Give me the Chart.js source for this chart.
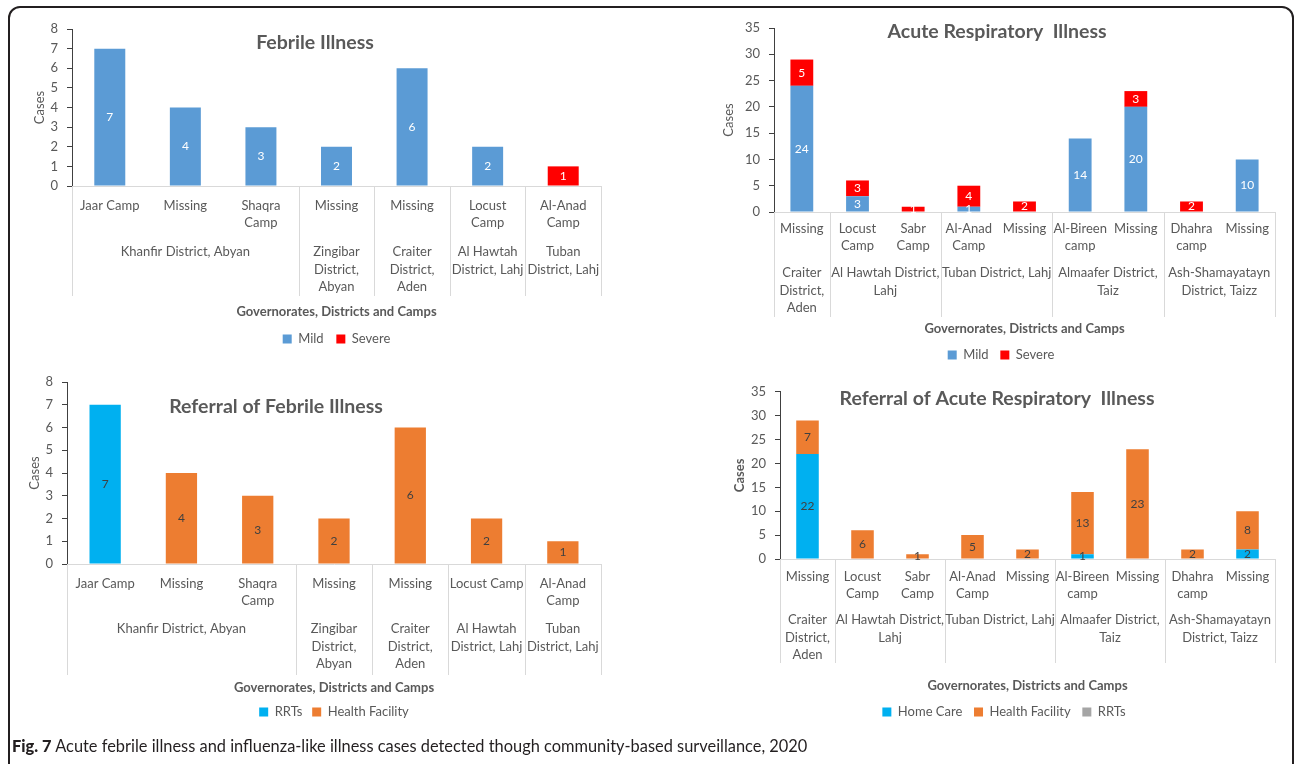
<!DOCTYPE html>
<html>
<head>
<meta charset="utf-8">
<script src="https://cdn.jsdelivr.net/npm/chart.js@4.4.1/dist/chart.umd.min.js"></script>
<style>
  html, body { margin: 0; padding: 0; background: #fff; }
  body { width: 1295px; height: 764px; position: relative; overflow: hidden; font-family: Lato, Carlito, "Liberation Sans", sans-serif; }
  canvas { position: absolute; }
  .frame { position: absolute; left: 8px; top: 6px; width: 1286px; height: 772px; border: 2px solid #231f20; border-radius: 12px; box-sizing: border-box; pointer-events: none; }
  .caption { position: absolute; left: 12px; top: 736px; font-size: 16.4px; color: #231f20; white-space: nowrap; }
  .caption b { font-weight: 900; }
</style>
</head>
<body>
<canvas id="febrile"></canvas>
<canvas id="ari"></canvas>
<canvas id="refFebrile"></canvas>
<canvas id="refAri"></canvas>
<div class="frame"></div>
<div class="caption"><b>Fig. 7</b> Acute febrile illness and influenza-like illness cases detected though community-based surveillance, 2020</div>

<script>
const FONT = 'Lato, Carlito, "Liberation Sans", sans-serif';
const TEXT = '#595959';
const AXIS_DARK = '#404040';
const GRID_LIGHT = '#d9d9d9';

const BLUE = '#5b9bd5';
const RED = '#ff0000';
const CYAN = '#00b0f0';
const ORANGE = '#ed7d31';
const GREY = '#a5a5a5';

// Febrile illness (camps grouped by district)
const febrileCamps = [['Jaar Camp'], ['Missing'], ['Shaqra', 'Camp'], ['Missing'], ['Missing'], ['Locust', 'Camp'], ['Al-Anad', 'Camp']];
const febrileGroups = [['Khanfir District, Abyan'], ['Zingibar', 'District,', 'Abyan'], ['Craiter', 'District,', 'Aden'], ['Al Hawtah', 'District, Lahj'], ['Tuban', 'District, Lahj']];
const febrileGroupSizes = [3, 1, 1, 1, 1];
const febrileMild = [7, 4, 3, 2, 6, 2, 0];
const febrileSevere = [0, 0, 0, 0, 0, 0, 1];
const febrileTicks = [0, 1, 2, 3, 4, 5, 6, 7, 8];

// Acute respiratory illness
const ariCamps = [['Missing'], ['Locust', 'Camp'], ['Sabr', 'Camp'], ['Al-Anad', 'Camp'], ['Missing'], ['Al-Bireen', 'camp'], ['Missing'], ['Dhahra', 'camp'], ['Missing']];
const ariGroups = [['Craiter', 'District,', 'Aden'], ['Al Hawtah District,', 'Lahj'], ['Tuban District, Lahj'], ['Almaafer District,', 'Taiz'], ['Ash-Shamayatayn', 'District, Taizz']];
const ariGroupSizes = [1, 2, 2, 2, 2];
const ariMild = [24, 3, 0, 1, 0, 14, 20, 0, 10];
const ariSevere = [5, 3, 1, 4, 2, 0, 3, 2, 0];
const ariTicks = [0, 5, 10, 15, 20, 25, 30, 35];

// Referral of febrile illness
const refFebrileCamps = [['Jaar Camp'], ['Missing'], ['Shaqra', 'Camp'], ['Missing'], ['Missing'], ['Locust Camp'], ['Al-Anad', 'Camp']];
const refFebrileRRTs = [7, 0, 0, 0, 0, 0, 0];
const refFebrileFacility = [0, 4, 3, 2, 6, 2, 1];

// Referral of acute respiratory illness
const refAriHome = [22, 0, 0, 0, 0, 1, 0, 0, 2];
const refAriFacility = [7, 6, 1, 5, 2, 13, 23, 2, 8];
const refAriRRTs = [0, 0, 0, 0, 0, 0, 0, 0, 0];

Chart.defaults.font.family = FONT;
Chart.defaults.color = TEXT;

// value labels, district rows under the camp labels, and the overlay title
const excelExtras = {
  id: 'excelExtras',
  afterDatasetsDraw(chart, args, opts) {
    const ctx = chart.ctx;
    ctx.save();
    ctx.font = '12px ' + FONT;
    ctx.fillStyle = opts.labelColor;
    ctx.textAlign = 'center';
    ctx.textBaseline = 'middle';
    chart.data.datasets.forEach((ds, i) => {
      chart.getDatasetMeta(i).data.forEach((bar, j) => {
        const v = ds.data[j];
        if (!v) return;
        ctx.fillText(String(v), bar.x, (bar.y + bar.base) / 2);
      });
    });
    ctx.restore();
  },
  afterDraw(chart, args, opts) {
    const {ctx, chartArea} = chart;
    const x = chart.scales.x;
    const step = (x.right - x.left) / chart.data.labels.length;
    const edges = [x.left];
    let idx = 0;
    opts.groupSizes.forEach(n => {
      idx += n;
      edges.push(x.getPixelForValue(idx - 1) + step / 2);
    });
    ctx.save();
    ctx.strokeStyle = GRID_LIGHT;
    ctx.lineWidth = 1;
    ctx.beginPath();
    edges.forEach(px => {
      const xx = Math.round(px) + 0.5;
      ctx.moveTo(xx, chartArea.bottom);
      ctx.lineTo(xx, chartArea.bottom + opts.sepLen);
    });
    ctx.stroke();

    ctx.fillStyle = TEXT;
    ctx.font = '13px ' + FONT;
    ctx.textAlign = 'center';
    ctx.textBaseline = 'middle';
    opts.groups.forEach((lines, g) => {
      const cx = (edges[g] + edges[g + 1]) / 2;
      lines.forEach((s, k) => ctx.fillText(s, cx, chartArea.bottom + opts.groupTop + k * 17.5));
    });

    ctx.font = 'bold 19.5px ' + FONT;
    ctx.fillText(opts.title, opts.titleX, opts.titleY);
    ctx.restore();
  }
};

function drawPanel(id, L, spec) {
  const canvas = document.getElementById(id);
  canvas.width = L.box.width;
  canvas.height = L.box.height;
  canvas.style.left = L.box.left + 'px';
  canvas.style.top = L.box.top + 'px';

  const titleLH = 13 * 1.2;
  const legendPad = L.legend.y - L.xTitleY - titleLH / 2 - 13 / 2;
  const legendH = 13 + legendPad + 10;
  const xHeight = L.xTitleY + titleLH / 2 - L.plot.bottom;

  // a full-width legend is centred between the paddings; if that leaves
  // the y axis too narrow for its labels, centre the legend on the plot instead
  let innerLeft = 2 * L.legend.x - L.plot.right;
  let legendFull = true;
  if (L.plot.left - innerLeft < 36) {
    innerLeft = L.plot.left - 40;
    legendFull = false;
  }
  const yWidth = L.plot.left - innerLeft;
  const padding = {
    left: innerLeft - L.box.left,
    right: L.box.left + L.box.width - L.plot.right,
    top: L.plot.top - L.box.top,
    bottom: L.box.top + L.box.height - (L.xTitleY + titleLH / 2 + legendH)
  };

  new Chart(canvas, {
    type: 'bar',
    data: {
      labels: spec.camps,
      datasets: spec.series.map(s => ({
        label: s.label,
        data: s.data,
        backgroundColor: s.color,
        categoryPercentage: 1,
        barPercentage: 0.41
      }))
    },
    options: {
      responsive: false,
      animation: false,
      layout: { padding },
      plugins: {
        legend: {
          position: 'bottom',
          fullSize: legendFull,
          labels: { boxWidth: 9, boxHeight: 9, padding: legendPad, color: TEXT, font: { size: 13 } }
        },
        tooltip: { enabled: false },
        excelExtras: {
          labelColor: spec.labelColor,
          groups: spec.groups,
          groupSizes: spec.groupSizes,
          groupTop: L.groupTop,
          sepLen: L.sepLen,
          title: spec.title,
          titleX: L.title.x - L.box.left,
          titleY: L.title.y - L.box.top
        }
      },
      scales: {
        x: {
          stacked: true,
          grid: { display: false, drawTicks: false },
          border: { color: GRID_LIGHT },
          ticks: { color: TEXT, font: { size: 13, lineHeight: 1.3 }, padding: L.tickPad, maxRotation: 0, autoSkip: false },
          title: { display: true, text: 'Governorates, Districts and Camps', color: TEXT, font: { size: 13, weight: 'bold' }, padding: 0 },
          afterFit: s => { s.height = xHeight; }
        },
        y: {
          stacked: true,
          min: spec.ticks[0],
          max: spec.ticks[spec.ticks.length - 1],
          afterBuildTicks: s => { s.ticks = spec.ticks.map(v => ({ value: v })); },
          ticks: { color: TEXT, font: { size: 13 }, padding: 9 },
          grid: { drawOnChartArea: false, color: AXIS_DARK, tickLength: 5 },
          border: { color: AXIS_DARK },
          title: {
            display: true, text: 'Cases', color: TEXT,
            font: { size: 13, weight: spec.yTitleBold ? 'bold' : 'normal' },
            padding: { top: L.yTitleX - innerLeft - titleLH / 2, bottom: 0 }
          },
          afterFit: s => { s.width = yWidth; }
        }
      }
    },
    plugins: [excelExtras]
  });
}

drawPanel('febrile', {
  box: { left: 0, top: 0, width: 640, height: 365 },
  plot: { left: 72, right: 601, top: 29, bottom: 186 },
  title: { x: 315, y: 43 },
  yTitleX: 40, tickPad: 11.5, groupTop: 66, sepLen: 110, xTitleY: 312,
  legend: { x: 333, y: 339 }
}, {
  title: 'Febrile Illness',
  camps: febrileCamps, groups: febrileGroups, groupSizes: febrileGroupSizes,
  ticks: febrileTicks, labelColor: '#ffffff',
  series: [
    { label: 'Mild', data: febrileMild, color: BLUE },
    { label: 'Severe', data: febrileSevere, color: RED }
  ]
});

drawPanel('ari', {
  box: { left: 640, top: 0, width: 655, height: 375 },
  plot: { left: 774, right: 1275, top: 28, bottom: 212 },
  title: { x: 997, y: 32 },
  yTitleX: 729, tickPad: 8.5, groupTop: 61, sepLen: 105, xTitleY: 329,
  legend: { x: 1001, y: 355 }
}, {
  title: 'Acute Respiratory  Illness',
  camps: ariCamps, groups: ariGroups, groupSizes: ariGroupSizes,
  ticks: ariTicks, labelColor: '#ffffff',
  series: [
    { label: 'Mild', data: ariMild, color: BLUE },
    { label: 'Severe', data: ariSevere, color: RED }
  ]
});

drawPanel('refFebrile', {
  box: { left: 0, top: 365, width: 640, height: 399 },
  plot: { left: 67, right: 601, top: 382, bottom: 564 },
  title: { x: 276, y: 407 },
  yTitleX: 35, tickPad: 11.5, groupTop: 65, sepLen: 111, xTitleY: 688,
  legend: { x: 331, y: 712 }
}, {
  title: 'Referral of Febrile Illness',
  camps: refFebrileCamps, groups: febrileGroups, groupSizes: febrileGroupSizes,
  ticks: febrileTicks, labelColor: '#404040',
  series: [
    { label: 'RRTs', data: refFebrileRRTs, color: CYAN },
    { label: 'Health Facility', data: refFebrileFacility, color: ORANGE }
  ]
});

drawPanel('refAri', {
  box: { left: 640, top: 375, width: 655, height: 389 },
  plot: { left: 780, right: 1275, top: 391, bottom: 559 },
  title: { x: 997, y: 399 },
  yTitleX: 740, tickPad: 9.5, groupTop: 61, sepLen: 104, xTitleY: 686,
  legend: { x: 1004, y: 712 }
}, {
  title: 'Referral of Acute Respiratory  Illness',
  camps: ariCamps, groups: ariGroups, groupSizes: ariGroupSizes,
  ticks: ariTicks, labelColor: '#404040', yTitleBold: true,
  series: [
    { label: 'Home Care', data: refAriHome, color: CYAN },
    { label: 'Health Facility', data: refAriFacility, color: ORANGE },
    { label: 'RRTs', data: refAriRRTs, color: GREY }
  ]
});
</script>
</body>
</html>
